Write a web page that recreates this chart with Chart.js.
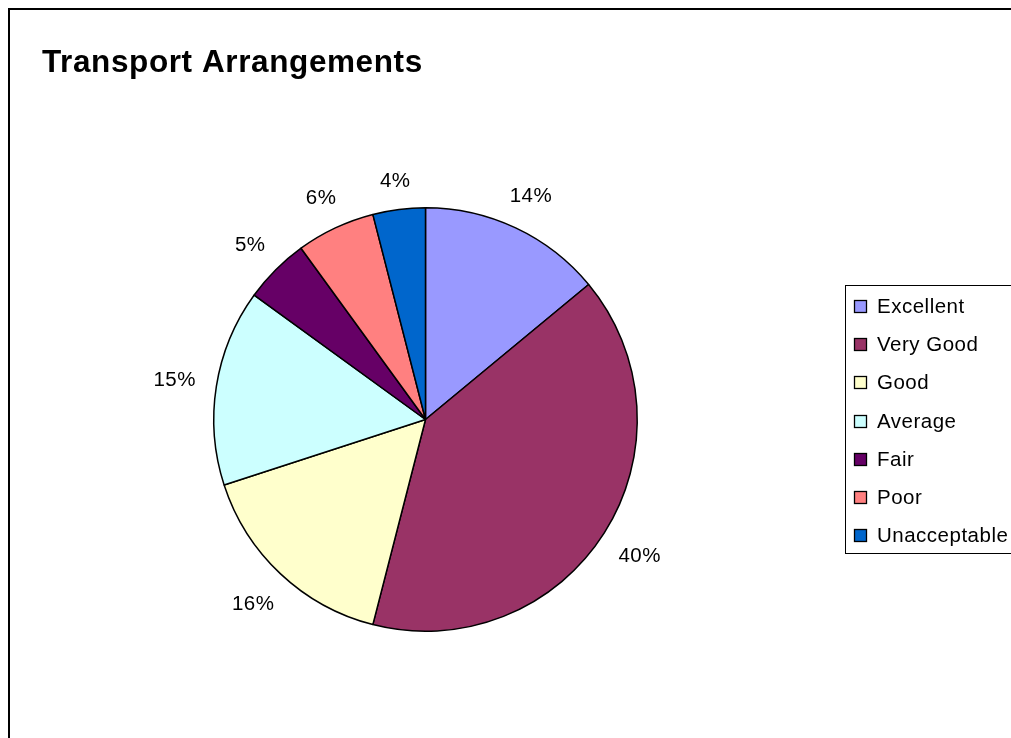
<!DOCTYPE html>
<html>
<head>
<meta charset="utf-8">
<title>Transport Arrangements</title>
<script src="https://cdn.jsdelivr.net/npm/chart.js@4/dist/chart.umd.min.js"></script>
<style>
  html, body { margin: 0; padding: 0; background: #ffffff; overflow: hidden; }
  canvas { display: block; }
</style>
</head>
<body>
<canvas id="chart" width="1011" height="738"></canvas>
<script>
// Survey ratings for transport arrangements (percent of responses)
const categories = ['Excellent', 'Very Good', 'Good', 'Average', 'Fair', 'Poor', 'Unacceptable'];
const shares = [14, 40, 16, 15, 5, 6, 4];
const sliceColors = ['#9999FF', '#993366', '#FFFFCC', '#CCFFFF', '#660066', '#FF8080', '#0066CC'];
const chartTitle = 'Transport Arrangements';

const FONT = '"Liberation Sans", Arial, sans-serif';

// Frame and title of the chart area
const framePlugin = {
  id: 'frame',
  beforeDraw(chart) {
    const ctx = chart.ctx;
    ctx.save();
    ctx.fillStyle = '#ffffff';
    ctx.fillRect(0, 0, chart.width, chart.height);
    ctx.strokeStyle = '#000000';
    ctx.lineWidth = 2;
    ctx.strokeRect(9, 9, chart.width + 40, chart.height + 40);
    ctx.fillStyle = '#000000';
    ctx.font = 'bold 31.5px ' + FONT;
    ctx.letterSpacing = '0.6px';
    ctx.textAlign = 'left';
    ctx.textBaseline = 'alphabetic';
    ctx.fillText(chartTitle, 42, 72);
    ctx.restore();
  }
};

// Percentage labels placed just outside each slice
const outsideLabels = {
  id: 'outsideLabels',
  afterDatasetsDraw(chart) {
    const ctx = chart.ctx;
    const meta = chart.getDatasetMeta(0);
    const values = chart.data.datasets[0].data;
    ctx.save();
    ctx.font = '20.5px ' + FONT;
    ctx.letterSpacing = '0.5px';
    ctx.fillStyle = '#000000';
    ctx.textAlign = 'center';
    ctx.textBaseline = 'middle';
    meta.data.forEach((arc, i) => {
      const p = arc.getProps(['x', 'y', 'startAngle', 'endAngle', 'outerRadius'], true);
      const mid = (p.startAngle + p.endAngle) / 2;
      const text = values[i] + '%';
      const hw = ctx.measureText(text).width / 2;
      const hh = 7.5;
      const extent = Math.abs(Math.cos(mid)) * hw + Math.abs(Math.sin(mid)) * hh;
      const r = p.outerRadius + 20 + extent;
      ctx.fillText(text, p.x + Math.cos(mid) * r, p.y + Math.sin(mid) * r + 1);
    });
    ctx.restore();
  }
};

// Boxed legend to the right of the pie
const boxedLegend = {
  id: 'boxedLegend',
  afterDraw(chart) {
    const ctx = chart.ctx;
    const ds = chart.data.datasets[0];
    const left = 845.5, top = 285.5, bottom = 553.5;
    ctx.save();
    ctx.strokeStyle = '#000000';
    ctx.lineWidth = 1;
    ctx.strokeRect(left, top, chart.width + 20 - left, bottom - top);
    ctx.font = '20.5px ' + FONT;
    ctx.letterSpacing = '0.5px';
    ctx.textAlign = 'left';
    ctx.textBaseline = 'alphabetic';
    chart.data.labels.forEach((label, i) => {
      const baseline = 313 + i * 38.2;
      ctx.fillStyle = ds.backgroundColor[i];
      ctx.fillRect(854.5, Math.round(baseline) - 12.5, 12, 12);
      ctx.strokeStyle = '#000000';
      ctx.lineWidth = 1.3;
      ctx.strokeRect(854.5, Math.round(baseline) - 12.5, 12, 12);
      ctx.fillStyle = '#000000';
      ctx.fillText(label, 877, baseline);
    });
    ctx.restore();
  }
};

new Chart(document.getElementById('chart'), {
  type: 'pie',
  data: {
    labels: categories,
    datasets: [{
      data: shares,
      backgroundColor: sliceColors,
      borderColor: '#000000',
      borderWidth: 1.5,
      hoverOffset: 0
    }]
  },
  options: {
    responsive: false,
    devicePixelRatio: 1,
    animation: false,
    layout: { padding: { left: 213, right: 373, top: 207, bottom: 106 } },
    plugins: {
      legend: { display: false },
      title: { display: false },
      tooltip: { enabled: false }
    },
    events: []
  },
  plugins: [framePlugin, outsideLabels, boxedLegend]
});
</script>
</body>
</html>
